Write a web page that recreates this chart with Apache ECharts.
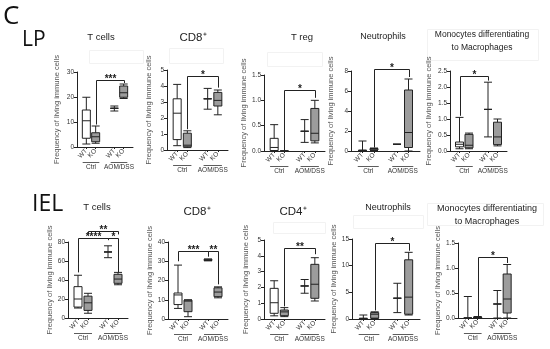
<!DOCTYPE html>
<html><head><meta charset="utf-8">
<script src="https://cdn.jsdelivr.net/npm/echarts@6/dist/echarts.min.js"></script>
<style>html,body{margin:0;padding:0;background:#fff}#c{width:550px;height:349px}</style>
</head><body><div id="c"></div>
<script>
// x slots: WT / KO for Ctrl, gap, WT / KO for AOM/DSS
const slotLabels = ['', 'WT', 'KO', '', 'WT', 'KO', ''];
const groupLabels = ['Ctrl', 'AOM/DSS'];
const yAxisName = 'Frequency of living immune cells';
const panelTitles = ['T cells', 'CD8⁺', 'T reg', 'Neutrophils', 'Monocytes differentiating\nto Macrophages',
                     'T cells', 'CD8⁺', 'CD4⁺', 'Neutrophils', 'Monocytes differentiating\nto Macrophages'];
// groups: WT Ctrl, KO Ctrl, WT AOM/DSS, KO AOM/DSS ; each [min, Q1, median, Q3, max]
const lpTcells  = [[1.2,3.5,10.5,14.8,19.9],[1.5,2.1,4.1,5.7,8.4],[14.4,15.5,15.5,15.5,16.4],[19.4,19.9,21.7,24.4,25.2]];
const lpCD8     = [[0.27,0.65,2.3,3.2,4.1],[0.15,0.2,0.3,1.05,1.2],[2.55,3.2,3.2,3.2,3.85],[2.2,2.75,3.1,3.6,3.75]];
const lpTreg    = [[0,0.01,0.07,0.25,0.52],[0,0,0,0,0],[0.17,0.39,0.39,0.39,0.62],[0.16,0.2,0.35,0.84,1.0]];
const lpNeutro  = [[0,0.02,0.05,0.1,1.0],[0.05,0.1,0.2,0.25,0.3],[0.67,0.67,0.67,0.67,0.67],[0,0.35,1.85,6.1,7.2]];
const lpMono    = [[0.07,0.13,0.21,0.28,1.05],[0.07,0.1,0.18,0.52,0.56],[0.44,1.3,1.3,1.3,2.15],[0.16,0.2,0.44,0.9,1.0]];
const ielTcells = [[10.5,11.5,20,33,45],[5,8,16,23,26],[63.5,69.5,69.5,69.5,76],[35,36.5,41,46,48]];
const ielCD8    = [[5.5,7.5,12.5,13.5,28],[1.2,3.8,9.3,9.8,10],[30.2,30.4,30.7,31,31.2],[11,11.6,14,16.2,16.7]];
const ielCD4    = [[0.2,0.36,1.03,1.94,2.42],[0.15,0.21,0.45,0.57,0.72],[1.63,2.09,2.09,2.09,2.5],[1.14,1.31,2.2,3.46,3.88]];
const ielNeutro = [[0,0.05,0.1,0.15,0.75],[0.1,0.15,0.9,1.2,1.35],[1.2,3.9,3.9,3.9,6.7],[0.75,0.9,4.1,11.1,12.5]];
const ielMono   = [[0,0,0,0,0.43],[0,0,0.01,0.02,0.03],[0,0.28,0.28,0.28,0.55],[0,0.1,0.38,0.88,1.07]];
// significance brackets: [fromGroup, toGroup, leftLegEnd, rightLegEnd, barLevel, label]
const lpTcellsSig  = [[1,3,9,25.6,26.8,'***']];
const lpCD8Sig     = [[1,3,1.3,3.9,4.6,'*']];
const lpTregSig    = [[1,3,0,1.05,1.2,'*']];
const lpNeutroSig  = [[1,3,0.35,7.4,8.2,'*']];
const lpMonoSig    = [[0,2,1.1,2.2,2.34,'*']];
const ielTcellsSig = [[0,2,48,82,84,'****'],[2,3,82,48,84,'*'],[1,3,88,88,92,'**']];
const ielCD8Sig    = [[0,2,30,32.5,35.2,'***'],[2,3,32.5,18,35.2,'**']];
const ielCD4Sig    = [[1,3,0.8,4.1,4.5,'**']];
const ielNeutroSig = [[1,3,1.6,12.8,14.2,'*']];
const ielMonoSig   = [[1,3,0.02,1.1,1.23,'*']];
// y axis ranges
const yMaxes    = [30, 5, 1.5, 8, 2.5, 80, 40, 5, 15, 1.5];
const yIntervals= [10, 1, 0.5, 2, 0.5, 20, 10, 1, 5, 0.5];

const datasets = [lpTcells, lpCD8, lpTreg, lpNeutro, lpMono, ielTcells, ielCD8, ielCD4, ielNeutro, ielMono];
const sigs = [lpTcellsSig, lpCD8Sig, lpTregSig, lpNeutroSig, lpMonoSig, ielTcellsSig, ielCD8Sig, ielCD4Sig, ielNeutroSig, ielMonoSig];

// layout
const groupSlots = [1, 2, 4, 5];
const grids = [
  {left:77, top:72, width:56, height:75},
  {left:167, top:70, width:61, height:80},
  {left:264, top:75, width:61, height:76},
  {left:351, top:71, width:69, height:80},
  {left:450, top:71, width:57, height:80},
  {left:68, top:242, width:60, height:76},
  {left:168, top:242, width:60, height:77},
  {left:264, top:240, width:61, height:79},
  {left:352, top:239, width:68, height:80},
  {left:458, top:243, width:59, height:75}
];
const titlePos = [[101,37],[193,38],[302,37],[383,37],[482,41],[97,207],[197,212],[293,212],[388,208],[487,215]];
const titleSize = [9.5,11.5,9.5,9,8.5,9.5,11.5,11.5,9,9];
const nameGaps = [16,14,16,16,17,13,14,14,14,15];
const FONT = 'Liberation Sans, Arial, sans-serif';
const INK = '#222';

function crisp(v){ return Math.round(v) + 0.5; }

function makeRender(idx) {
  return function (params, api) {
    const sx = s => api.coord([s, 0])[0];
    const py = v => api.coord([0, v])[1];
    const y0 = py(0);
    const ch = [];
    sigs[idx].forEach(s => {
      const xa = crisp(sx(groupSlots[s[0]])), xb = crisp(sx(groupSlots[s[1]]));
      const yt = crisp(py(s[4]));
      ch.push({type:'polyline', shape:{points:[[xa, py(s[2])],[xa, yt],[xb, yt],[xb, py(s[3])]]},
               style:{stroke:INK, lineWidth:1, fill:null}});
      ch.push({type:'text', x:(xa+xb)/2, y:yt + 4,
               style:{text:s[5], fontSize:10, fontWeight:'bold', fill:INK, align:'center', verticalAlign:'bottom', fontFamily:FONT}});
    });
    [[0,1],[3,4]].forEach((pr, gi) => {
      const a = pr[0];
      const xL = (sx(a) + sx(a+1)) / 2 + 1;
      const xR = (sx(a+2) + sx(a+3)) / 2 - 1;
      const yl = crisp(y0 + 15);
      ch.push({type:'line', shape:{x1:xL, y1:yl, x2:xR, y2:yl}, style:{stroke:'#333', lineWidth:0.8}});
      ch.push({type:'text', x:(xL+xR)/2, y:y0 + 20,
               style:{text:groupLabels[gi], fontSize:6.5, fill:'#333', align:'center', verticalAlign:'middle', fontFamily:FONT}});
    });
    return {type:'group', children:ch};
  };
}

const option = {animation:false, backgroundColor:'#fff', grid:[], xAxis:[], yAxis:[], series:[], graphic:[]};

datasets.forEach((d, i) => {
  option.grid.push(Object.assign({containLabel:false}, grids[i]));
  option.xAxis.push({
    type:'category', gridIndex:i, data:slotLabels, boundaryGap:false,
    axisLine:{lineStyle:{color:INK, width:1}},
    axisTick:{show:true, length:2, interval:(n, v) => v !== '', lineStyle:{color:INK}},
    axisLabel:{interval:0, rotate:45, fontSize:6.5, color:'#333', margin:3, fontFamily:FONT},
    splitLine:{show:false}
  });
  const dec = yIntervals[i] < 1;
  option.yAxis.push({
    type:'value', gridIndex:i, min:0, max:yMaxes[i], interval:yIntervals[i],
    axisLine:{show:true, lineStyle:{color:INK, width:1}},
    axisTick:{show:true, length:3, lineStyle:{color:INK}},
    axisLabel:{fontSize:6.5, color:'#333', margin:3, fontFamily:FONT, formatter: v => dec ? v.toFixed(1) : String(v)},
    splitLine:{show:false},
    name:yAxisName, nameLocation:'middle', nameRotate:90, nameGap:nameGaps[i],
    nameTextStyle:{fontSize:7.5, color:'#555', fontFamily:FONT}
  });
  const boxData = slotLabels.map(() => ['-','-','-','-','-']);
  d.forEach((v, g) => {
    boxData[groupSlots[g]] = {value:v, itemStyle:{color: g % 2 === 0 ? '#ffffff' : '#9c9c9c', borderColor:INK, borderWidth:1}};
  });
  option.series.push({
    type:'boxplot', xAxisIndex:i, yAxisIndex:i, boxWidth:[8,8], data:boxData, silent:true,
    itemStyle:{borderColor:INK, borderWidth:1}
  });
  option.series.push({
    type:'custom', xAxisIndex:i, yAxisIndex:i, data:[[0,0]], renderItem:makeRender(i), clip:false, silent:true, z:10
  });
  option.graphic.push({
    type:'text', x:titlePos[i][0], y:titlePos[i][1],
    style:{text:panelTitles[i], fontSize:titleSize[i], fill:INK, align:'center', verticalAlign:'middle', fontFamily:FONT, lineHeight:titleSize[i]*1.45}
  });
});

// faint boxes under titles
[[89,50,54,13],[169,48,54,15],[267,52,55,14],[427,29,111,31],[273,222,52,11],[353,215,70,13],[427,203,116,22]].forEach(r => {
  option.graphic.push({type:'rect', shape:{x:r[0]+0.5, y:r[1]+0.5, width:r[2], height:r[3]}, style:{fill:null, stroke:'#f2f2f2', lineWidth:1}, z:-1});
});

option.graphic.push({type:'text', x:3, y:17, style:{text:'C', fontSize:26, fill:'#111', verticalAlign:'middle', fontFamily:'Open Sans, Liberation Sans, sans-serif'}});
option.graphic.push({type:'text', x:22, y:40, style:{text:'LP', fontSize:21, fill:'#111', verticalAlign:'middle', fontFamily:'Open Sans, Liberation Sans, sans-serif'}});
option.graphic.push({type:'text', x:32, y:204, style:{text:'IEL', fontSize:23, fill:'#111', verticalAlign:'middle', fontFamily:'Open Sans, Liberation Sans, sans-serif'}});

const chart = echarts.init(document.getElementById('c'), null, {renderer:'canvas'});
chart.setOption(option);
</script></body></html>
